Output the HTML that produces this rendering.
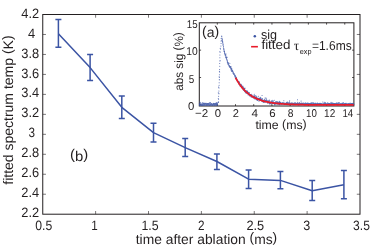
<!DOCTYPE html>
<html><head><meta charset="utf-8"><title>fig</title>
<style>html,body{margin:0;padding:0;background:#fff;overflow:hidden}</style></head>
<body>
<svg width="373" height="248" viewBox="0 0 373 248" style="display:block;will-change:transform;font-family:'Liberation Sans',sans-serif" fill="#231f20">
<rect width="373" height="248" fill="#fff"/>
<rect x="199.3" y="22.8" width="154.60" height="83.20" fill="none" stroke="#231f20" stroke-width="1"/>
<path d="M217.30 106.0v-1.8M217.30 22.8v1.8M235.51 106.0v-1.8M235.51 22.8v1.8M253.72 106.0v-1.8M253.72 22.8v1.8M271.94 106.0v-1.8M271.94 22.8v1.8M290.15 106.0v-1.8M290.15 22.8v1.8M308.36 106.0v-1.8M308.36 22.8v1.8M326.57 106.0v-1.8M326.57 22.8v1.8M344.78 106.0v-1.8M344.78 22.8v1.8M199.3 104.85h1.8M353.9 104.85h-1.8M199.3 77.50h1.8M353.9 77.50h-1.8M199.3 50.15h1.8M353.9 50.15h-1.8" stroke="#231f20" stroke-width="0.8" fill="none"/>
<path d="M218.45 102.50h0M218.39 101.84h0M218.63 99.22h0M218.29 98.47h0M218.63 96.16h0M218.94 93.63h0M218.31 92.77h0M218.91 90.90h0M218.99 87.89h0M218.62 86.99h0M219.10 85.29h0M219.16 82.79h0M219.31 79.85h0M219.33 79.50h0M219.39 77.42h0M219.16 76.83h0M219.41 74.69h0M219.64 71.91h0M219.41 71.25h0M219.61 69.53h0M219.75 66.17h0M219.70 63.55h0M219.94 60.88h0M220.11 60.57h0M219.89 57.66h0M219.91 55.03h0M220.10 52.31h0M219.94 51.57h0M220.47 48.97h0M220.21 48.20h0M220.91 46.07h0M221.06 43.46h0M221.04 41.04h0M221.45 40.72h0M221.15 38.45h0" stroke="#3b54a4" stroke-width="1.05" stroke-linecap="round" fill="none" opacity="0.85"/>
<path d="M199.33 103.84h0M199.36 103.97h0M199.44 105.51h0M199.52 104.62h0M199.39 105.31h0M199.48 104.26h0M199.78 102.01h0M199.96 105.33h0M199.84 103.71h0M200.01 104.74h0M200.14 105.14h0M200.18 104.87h0M200.44 104.55h0M200.31 105.03h0M200.58 104.38h0M200.59 102.68h0M200.96 103.09h0M200.93 103.83h0M200.93 103.57h0M200.93 104.26h0M201.01 103.65h0M201.31 105.46h0M201.43 104.10h0M201.40 104.71h0M201.61 105.55h0M201.74 105.46h0M201.60 105.30h0M202.04 105.41h0M202.08 104.33h0M201.86 104.95h0M202.25 104.77h0M202.26 105.19h0M202.30 105.06h0M202.43 105.59h0M202.76 104.74h0M202.63 104.40h0M202.82 102.64h0M202.64 103.75h0M203.02 103.69h0M203.09 105.12h0M203.21 104.81h0M203.32 103.41h0M203.31 103.79h0M203.57 105.32h0M203.52 103.30h0M203.68 105.36h0M203.79 104.99h0M203.90 103.40h0M204.12 105.26h0M204.10 103.33h0M204.12 103.99h0M204.33 103.81h0M204.41 103.79h0M204.69 103.32h0M204.57 103.73h0M204.58 104.40h0M204.76 105.10h0M205.05 103.38h0M205.08 103.43h0M205.04 105.09h0M204.98 105.14h0M205.09 103.65h0M205.52 104.09h0M205.56 103.49h0M205.66 103.86h0M205.86 104.83h0M205.53 103.35h0M206.03 103.92h0M205.99 103.91h0M206.00 103.68h0M206.10 104.08h0M206.24 105.57h0M206.48 104.09h0M206.41 103.58h0M206.54 105.11h0M206.75 104.24h0M206.68 103.22h0M206.97 104.25h0M206.81 104.62h0M207.06 103.71h0M207.22 103.94h0M207.38 103.92h0M207.16 104.84h0M207.39 105.35h0M207.58 105.02h0M207.52 104.30h0M207.65 103.48h0M207.76 104.41h0M207.67 104.55h0M208.09 103.98h0M207.89 103.42h0M208.15 103.46h0M208.51 104.20h0M208.53 103.78h0M208.52 105.24h0M208.60 103.55h0M208.64 105.09h0M208.93 103.31h0M208.84 105.23h0M209.04 105.15h0M209.13 103.07h0M209.26 104.83h0M209.43 102.89h0M209.14 105.36h0M209.54 105.51h0M209.71 104.62h0M209.91 103.70h0M210.06 104.28h0M209.90 104.33h0M210.07 103.42h0M210.36 102.42h0M210.34 104.55h0M210.34 104.32h0M210.51 104.38h0M210.62 105.35h0M210.67 104.88h0M210.67 103.84h0M210.84 104.41h0M210.87 105.56h0M211.02 104.50h0M211.01 105.35h0M211.30 103.67h0M211.45 104.43h0M211.43 103.67h0M211.52 104.13h0M211.67 104.15h0M211.94 105.01h0M211.95 103.58h0M211.90 104.95h0M212.17 105.23h0M212.29 104.99h0M212.21 105.03h0M212.45 104.88h0M212.44 104.50h0M212.63 105.13h0M212.64 105.39h0M212.75 105.03h0M212.99 104.37h0M213.02 104.08h0M212.95 104.84h0M213.11 105.25h0M213.20 103.66h0M213.36 104.15h0M213.37 104.39h0M213.60 103.66h0M213.49 103.53h0M213.79 103.99h0M213.84 103.47h0M213.80 104.31h0M213.90 103.23h0M213.96 103.87h0M214.19 105.45h0M214.32 104.60h0M214.35 103.88h0M214.35 104.45h0M214.65 103.82h0M214.72 103.88h0M215.02 104.89h0M214.84 105.16h0M214.86 104.03h0M215.06 104.40h0M215.24 103.53h0M215.45 103.33h0M215.44 103.70h0M215.59 104.56h0M215.90 105.11h0M215.78 105.27h0M215.80 103.70h0M215.95 103.54h0M216.27 104.47h0M216.10 104.46h0M216.28 104.80h0M216.35 102.49h0M216.37 103.45h0M216.43 103.51h0M216.70 103.28h0M216.71 104.76h0M216.85 105.36h0M216.92 104.94h0M217.11 104.42h0M217.28 104.73h0M217.07 104.14h0M217.31 103.42h0M217.38 103.90h0M217.50 103.86h0M217.65 102.72h0M217.69 104.80h0M217.48 105.00h0M221.74 36.13h0M221.76 36.38h0M221.71 36.63h0M221.67 36.24h0M222.05 38.17h0M222.14 39.14h0M222.35 39.64h0M222.17 40.20h0M222.37 41.33h0M222.53 40.97h0M222.69 41.50h0M222.63 42.29h0M222.91 43.10h0M222.82 42.65h0M222.99 44.12h0M223.00 44.34h0M223.19 44.86h0M223.08 45.49h0M223.44 46.55h0M223.46 47.94h0M223.41 47.81h0M223.70 48.33h0M223.72 49.15h0M223.88 49.67h0M224.02 49.05h0M223.98 50.23h0M224.17 51.16h0M223.99 51.45h0M224.48 51.53h0M224.49 52.64h0M224.57 51.17h0M224.62 52.81h0M224.64 53.77h0M224.99 54.69h0M224.95 53.83h0M225.07 54.61h0M225.28 55.26h0M225.29 55.03h0M225.29 54.88h0M225.51 54.29h0M225.43 55.56h0M225.61 57.40h0M225.80 56.33h0M226.03 53.97h0M225.84 56.53h0M226.03 57.07h0M226.11 55.91h0M226.24 58.60h0M226.48 57.87h0M226.45 58.48h0M226.68 58.92h0M226.56 57.52h0M226.81 59.57h0M226.99 59.47h0M226.97 60.15h0M227.17 57.27h0M227.37 60.89h0M227.35 61.37h0M227.30 61.75h0M227.48 60.68h0M227.59 63.23h0M227.37 62.33h0M227.70 62.35h0M227.59 62.57h0M228.03 63.07h0M228.09 64.25h0M228.12 64.41h0M228.33 63.40h0M228.36 63.90h0M228.43 62.68h0M228.53 63.34h0M228.71 64.70h0M228.76 65.74h0M228.98 65.01h0M228.78 65.69h0M229.01 65.61h0M229.31 65.85h0M229.18 65.88h0M229.43 66.04h0M229.41 66.67h0M229.55 65.77h0M229.49 66.33h0M229.84 66.31h0M229.84 63.24h0M230.11 66.92h0M229.89 67.49h0M230.14 66.76h0M230.38 66.78h0M230.38 67.47h0M230.48 67.59h0M230.51 67.88h0M230.81 67.61h0M230.85 68.46h0M230.95 66.63h0M230.92 68.68h0M231.01 69.37h0M231.05 69.90h0M231.15 68.26h0M231.62 69.92h0M231.51 71.29h0M231.81 69.22h0M231.70 70.19h0M231.68 70.91h0M231.79 68.25h0M231.92 70.54h0M232.15 71.36h0M232.29 71.22h0M232.33 70.75h0M232.33 71.06h0M232.33 70.17h0M232.63 70.56h0M232.55 71.28h0M232.92 71.56h0M232.97 73.12h0M233.02 72.24h0M233.03 73.10h0M233.33 72.71h0M233.28 72.20h0M233.39 72.02h0M233.35 73.76h0M233.66 73.56h0M233.72 74.24h0M233.75 73.78h0M233.84 74.23h0M233.81 73.86h0M234.05 74.39h0M234.16 74.50h0M234.23 74.59h0M234.43 73.81h0M234.43 74.92h0M234.74 75.86h0M234.32 73.92h0M234.66 75.13h0M234.85 76.86h0M235.12 75.19h0M235.08 75.42h0M235.35 75.45h0M235.17 76.17h0M235.29 76.16h0M235.46 77.12h0M235.42 76.59h0M235.64 78.14h0M235.66 77.54h0M235.68 77.86h0M236.23 77.90h0M235.86 76.78h0M236.29 77.42h0M236.24 78.26h0M236.33 79.30h0M236.42 78.85h0M236.37 77.59h0M236.66 79.58h0M236.63 79.13h0M236.88 79.90h0M236.91 79.76h0M237.07 79.33h0M237.19 80.21h0M237.18 80.49h0M237.33 80.63h0M237.49 80.34h0M237.34 81.61h0M237.53 80.48h0M237.64 81.70h0M237.81 81.74h0M238.06 81.82h0M238.02 81.08h0M238.27 81.24h0M238.27 81.60h0M238.15 81.41h0M238.46 82.06h0M238.76 81.53h0M238.61 81.80h0M238.71 82.57h0M238.73 83.56h0M238.92 82.61h0M239.01 82.71h0M239.09 84.37h0M239.02 83.87h0M239.30 82.82h0M239.46 82.36h0M239.60 81.94h0M239.32 83.91h0M239.93 84.77h0M240.07 84.00h0M239.74 84.70h0M240.05 85.97h0M240.01 84.00h0M240.17 85.33h0M240.28 85.07h0M240.43 84.85h0M240.46 84.42h0M240.61 85.01h0M240.57 86.23h0M240.87 84.50h0M240.70 85.02h0M241.10 84.26h0M241.09 85.54h0M241.23 85.88h0M241.15 85.73h0M241.33 86.76h0M241.62 85.29h0M241.60 85.35h0M241.63 86.01h0M241.57 86.27h0M242.02 86.97h0M242.02 86.89h0M242.02 87.94h0M242.39 87.44h0M242.38 86.60h0M242.41 87.54h0M242.29 87.67h0M242.49 87.70h0M242.68 87.87h0M242.84 86.03h0M243.03 86.88h0M243.04 87.50h0M243.02 89.61h0M243.00 89.04h0M243.32 87.52h0M243.37 88.82h0M243.31 87.04h0M243.45 87.74h0M243.70 88.79h0M243.76 90.34h0M243.79 88.82h0M243.80 90.52h0M244.19 88.93h0M244.20 88.91h0M244.22 89.14h0M244.44 91.31h0M244.42 89.37h0M244.71 90.06h0M244.94 88.00h0M244.53 88.93h0M244.88 88.71h0M244.95 91.27h0M245.06 90.79h0M245.23 90.45h0M245.20 91.92h0M245.29 91.47h0M245.59 91.39h0M245.58 91.46h0M245.64 91.94h0M245.71 92.85h0M245.80 92.80h0M245.95 92.06h0M246.12 91.72h0M246.18 92.82h0M246.19 90.76h0M246.45 92.31h0M246.50 92.04h0M246.61 92.71h0M246.79 92.03h0M246.72 90.86h0M246.70 92.21h0M246.83 92.59h0M246.83 93.54h0M247.13 91.35h0M247.53 93.27h0M247.47 90.94h0M247.60 92.45h0M247.54 92.69h0M247.71 93.58h0M247.69 91.59h0M247.81 93.11h0M248.01 92.74h0M247.92 94.66h0M248.28 93.05h0M248.37 93.51h0M248.33 94.80h0M248.53 92.49h0M248.56 94.24h0M248.60 92.85h0M248.67 93.25h0M248.97 93.78h0M249.04 94.94h0M249.28 95.19h0M249.25 92.57h0M249.20 94.00h0M249.54 94.06h0M249.52 94.61h0M249.59 94.05h0M249.84 95.14h0M249.89 95.29h0M249.74 95.25h0M250.01 96.13h0M249.87 95.14h0M250.28 95.01h0M250.27 95.52h0M250.49 94.43h0M250.32 94.62h0M250.57 94.97h0M250.51 95.16h0M250.82 94.94h0M250.91 95.90h0M250.94 95.37h0M250.95 95.50h0M251.30 97.16h0M251.28 95.59h0M251.28 95.67h0M251.37 96.14h0M251.57 94.97h0M251.52 96.30h0M251.70 95.30h0M251.76 94.36h0M252.13 95.93h0M252.01 96.17h0M252.01 95.41h0M252.44 96.71h0M252.32 95.83h0M252.53 96.29h0M252.42 96.26h0M252.79 97.10h0M252.62 97.01h0M252.82 97.37h0M252.76 97.03h0M253.07 96.20h0M253.30 96.42h0M253.34 97.30h0M253.35 98.04h0M253.40 96.09h0M253.59 96.05h0M253.71 97.01h0M253.51 96.85h0M253.97 97.85h0M254.26 96.99h0M254.00 98.00h0M254.16 96.97h0M254.25 94.25h0M254.56 95.72h0M254.43 96.39h0M254.56 97.98h0M254.59 97.18h0M254.89 99.06h0M254.57 96.94h0M255.13 97.11h0M255.06 95.53h0M255.10 97.54h0M255.17 97.79h0M255.34 98.06h0M255.38 98.61h0M255.71 96.96h0M255.51 98.63h0M255.88 99.06h0M255.69 97.78h0M256.06 95.98h0M255.94 97.76h0M256.11 96.60h0M256.36 98.51h0M256.46 99.14h0M256.30 97.09h0M256.54 97.68h0M256.52 99.68h0M256.79 96.91h0M256.72 97.74h0M256.76 97.61h0M256.98 97.89h0M257.06 99.99h0M256.95 98.63h0M257.22 99.65h0M257.52 98.55h0M257.40 98.52h0M257.44 98.31h0M257.61 100.39h0M257.81 99.82h0M258.00 98.72h0M257.92 99.20h0M258.21 99.82h0M258.34 96.32h0M258.43 98.16h0M258.56 98.50h0M258.77 99.29h0M258.54 99.30h0M258.47 99.50h0M258.95 98.38h0M259.00 101.25h0M259.06 99.22h0M259.22 99.25h0M259.26 100.09h0M259.27 99.62h0M259.42 99.25h0M259.69 98.47h0M259.55 99.90h0M259.81 99.45h0M259.93 99.62h0M259.77 98.21h0M260.08 98.32h0M260.24 97.37h0M260.17 98.69h0M260.32 100.44h0M260.42 100.24h0M260.56 99.46h0M260.61 99.39h0M260.73 100.07h0M260.87 99.77h0M260.97 98.12h0M261.24 100.34h0M261.02 98.99h0M261.28 100.77h0M261.37 100.99h0M261.27 99.25h0M261.70 99.18h0M261.65 100.65h0M261.62 99.87h0M261.82 101.03h0M262.05 95.58h0M261.91 101.12h0M262.14 100.30h0M262.48 99.67h0M262.25 100.48h0M262.31 98.57h0M262.51 100.37h0M262.68 100.02h0M262.46 101.45h0M262.75 99.88h0M262.93 100.83h0M263.05 101.95h0M263.01 100.52h0M263.06 100.70h0M263.24 101.59h0M263.28 100.86h0M263.46 100.85h0M263.80 101.64h0M263.70 101.00h0M263.84 102.54h0M264.11 100.29h0M264.10 100.52h0M264.11 99.96h0M264.20 101.40h0M264.08 100.34h0M264.29 101.23h0M264.59 99.50h0M264.60 102.08h0M264.69 101.28h0M264.87 101.05h0M265.05 98.12h0M265.16 100.46h0M264.91 101.09h0M265.33 101.42h0M265.39 100.84h0M265.40 101.96h0M265.53 101.68h0M265.54 101.03h0M265.62 101.37h0M265.75 100.62h0M265.77 100.86h0M265.92 100.09h0M266.20 101.40h0M266.17 99.99h0M265.99 97.91h0M266.39 101.74h0M266.39 100.67h0M266.65 99.00h0M266.70 101.13h0M266.51 101.28h0M266.66 101.00h0M267.03 100.49h0M267.00 101.96h0M267.11 100.67h0M267.27 102.59h0M267.49 101.90h0M267.60 100.95h0M267.58 102.43h0M267.67 102.26h0M267.86 101.35h0M267.97 101.98h0M267.92 103.38h0M268.01 102.96h0M268.05 102.12h0M268.19 102.62h0M268.47 101.91h0M268.34 101.30h0M268.45 100.66h0M268.78 102.33h0M268.80 102.07h0M268.84 101.77h0M268.80 101.94h0M269.13 101.57h0M269.24 100.02h0M269.20 101.49h0M269.44 103.15h0M269.47 103.05h0M269.62 103.56h0M269.85 103.45h0M269.62 100.78h0M269.88 104.34h0M270.08 103.49h0M270.00 102.88h0M270.22 103.55h0M270.37 103.10h0M270.56 102.94h0M270.47 103.22h0M270.64 102.49h0M270.65 102.66h0M270.98 103.08h0M270.85 101.84h0M270.84 102.17h0M271.09 102.80h0M271.03 103.45h0M271.18 102.56h0M271.20 101.97h0M271.41 100.86h0M271.44 102.56h0M271.89 101.89h0M271.61 103.99h0M271.78 102.12h0M272.02 101.71h0M272.13 101.94h0M272.31 103.47h0M272.52 103.38h0M272.42 102.73h0M272.39 102.06h0M272.45 102.66h0M272.83 103.48h0M272.87 100.24h0M272.78 100.74h0M272.92 101.19h0M272.97 103.18h0M272.76 102.92h0M273.21 103.28h0M273.36 102.51h0M273.53 103.13h0M273.39 101.87h0M273.86 103.74h0M273.73 102.66h0M273.85 103.54h0M273.86 102.42h0M274.03 103.18h0M273.89 102.63h0M274.19 103.86h0M274.26 100.31h0M274.69 103.54h0M274.71 103.22h0M274.66 104.88h0M274.88 103.88h0M275.08 103.49h0M274.87 102.72h0M275.11 103.23h0M275.30 103.18h0M275.23 103.71h0M275.38 102.54h0M275.52 103.30h0M275.49 101.88h0M275.63 103.60h0M275.78 103.31h0M275.96 103.34h0M275.83 104.26h0M276.13 101.93h0M276.06 103.14h0M276.37 103.02h0M276.48 102.06h0M276.45 103.67h0M276.59 101.89h0M276.55 103.34h0M276.61 103.22h0M276.80 102.25h0M277.05 102.30h0M277.01 101.62h0M277.05 103.41h0M277.34 102.34h0M277.48 102.80h0M277.23 102.16h0M277.72 102.07h0M277.64 104.22h0M277.68 102.92h0M277.74 103.79h0M278.00 104.22h0M278.06 103.78h0M278.12 102.78h0M278.26 103.51h0M278.43 102.94h0M278.46 102.48h0M278.74 102.50h0M278.55 103.32h0M278.84 102.10h0M279.06 104.44h0M279.02 102.77h0M279.06 103.03h0M279.13 103.77h0M279.08 103.58h0M279.32 102.38h0M279.19 102.89h0M279.52 102.37h0M279.59 104.81h0M279.60 103.18h0M279.97 102.84h0M279.72 101.39h0M280.18 103.35h0M280.01 103.96h0M280.27 102.57h0M280.43 103.08h0M280.26 103.63h0M280.67 103.26h0M280.58 102.61h0M280.68 102.98h0M281.02 104.09h0M280.85 103.30h0M280.95 104.09h0M281.07 103.15h0M281.29 103.71h0M281.40 103.46h0M281.44 103.75h0M281.55 104.14h0M281.63 103.31h0M281.67 103.38h0M281.80 102.75h0M281.93 103.92h0M282.02 103.46h0M281.99 103.83h0M282.14 103.62h0M282.34 103.34h0M282.33 103.20h0M282.34 104.04h0M282.80 103.00h0M282.61 103.46h0M282.72 103.24h0M282.88 103.90h0M283.05 103.44h0M282.96 104.09h0M283.05 102.47h0M283.31 103.76h0M283.39 103.65h0M283.63 103.20h0M283.63 103.36h0M283.84 100.72h0M283.73 104.31h0M283.79 103.31h0M283.85 103.55h0M284.17 103.23h0M284.07 103.68h0M284.33 103.29h0M284.10 103.32h0M284.72 103.20h0M284.45 104.53h0M284.64 104.15h0M284.54 104.14h0M284.85 104.07h0M285.03 103.88h0M285.05 103.63h0M285.14 104.04h0M285.18 103.96h0M285.36 103.25h0M285.62 103.42h0M285.66 103.97h0M285.61 103.86h0M285.72 103.65h0M286.01 103.70h0M286.11 103.20h0M285.88 103.34h0M286.16 103.23h0M286.49 104.41h0M286.46 103.65h0M286.65 104.04h0M286.74 103.77h0M286.71 102.96h0M286.75 102.19h0M287.08 103.86h0M286.89 103.09h0M286.99 104.65h0M287.37 103.23h0M287.12 103.57h0M287.48 103.29h0M287.45 102.04h0M287.61 103.78h0M287.65 103.88h0M287.58 103.99h0M287.91 103.35h0M288.02 103.59h0M288.05 103.97h0M288.34 102.93h0M288.21 102.87h0M288.50 104.51h0M288.25 103.64h0M288.67 103.69h0M288.64 103.61h0M288.92 104.14h0M289.00 102.89h0M288.95 104.18h0M289.06 103.39h0M289.10 103.78h0M289.20 103.28h0M289.34 102.09h0M289.50 103.16h0M289.61 103.45h0M289.78 103.77h0M289.94 103.77h0M289.69 100.85h0M290.01 104.04h0M290.02 104.42h0M290.38 103.42h0M290.22 104.58h0M290.21 102.94h0M290.37 103.78h0M290.53 103.90h0M290.57 103.37h0M290.79 103.69h0M291.12 103.29h0M290.83 103.71h0M291.10 103.54h0M291.11 103.60h0M291.38 103.02h0M291.34 103.94h0M291.17 103.87h0M291.60 104.48h0M291.80 104.29h0M291.76 103.54h0M291.96 102.73h0M291.89 103.88h0M292.23 103.58h0M292.11 103.98h0M292.24 103.13h0M292.15 103.42h0M292.53 103.58h0M292.45 103.29h0M292.78 103.69h0M292.67 104.10h0M292.91 103.89h0M293.02 103.14h0M293.08 104.48h0M293.17 103.89h0M293.13 105.17h0M293.24 104.42h0M293.51 103.58h0M293.52 103.80h0M293.74 104.37h0M293.71 104.51h0M294.04 104.22h0M293.77 104.03h0M294.26 104.14h0M294.19 104.22h0M294.09 103.27h0M294.13 103.73h0M294.47 102.70h0M294.60 103.67h0M294.66 104.48h0M294.72 103.41h0M295.04 103.49h0M294.99 103.79h0M295.40 103.79h0M295.08 104.15h0M295.29 104.28h0M295.48 103.23h0M295.36 104.17h0M295.62 103.27h0M295.52 102.82h0M295.85 103.80h0M295.89 104.20h0M295.79 103.83h0M296.05 103.52h0M296.36 103.33h0M296.46 103.96h0M296.46 103.97h0M296.41 103.65h0M296.48 104.33h0M296.60 103.63h0M296.91 104.44h0M297.07 103.48h0M296.98 103.92h0M297.05 103.82h0M297.31 103.42h0M297.41 103.53h0M297.58 104.49h0M297.47 99.75h0M297.69 103.02h0M297.60 103.76h0M297.74 102.36h0M297.81 103.72h0M298.04 103.56h0M297.99 104.02h0M298.15 104.15h0M298.25 105.02h0M298.65 103.63h0M298.35 103.96h0M298.42 103.31h0M298.63 103.94h0M298.66 103.86h0M298.72 104.43h0M298.92 105.23h0M298.76 104.41h0M299.05 103.27h0M299.26 103.59h0M299.42 103.93h0M299.38 104.10h0M299.71 103.67h0M299.67 103.29h0M299.66 104.02h0M299.71 103.29h0M299.70 102.64h0M300.03 104.60h0M300.31 103.87h0M300.37 104.51h0M300.31 104.62h0M300.59 104.25h0M300.70 103.83h0M300.56 103.47h0M300.72 104.51h0M301.05 103.23h0M300.91 104.55h0M301.11 103.93h0M301.18 104.64h0M301.07 101.11h0M301.38 103.32h0M301.52 103.75h0M301.40 103.68h0M301.31 104.03h0M301.60 102.93h0M301.83 103.78h0M301.83 104.24h0M301.95 103.52h0M302.21 103.63h0M302.30 103.93h0M302.31 103.86h0M302.45 103.53h0M302.58 104.16h0M302.67 104.23h0M302.85 104.64h0M302.80 103.83h0M302.80 104.38h0M302.91 104.70h0M303.24 103.54h0M303.10 102.74h0M303.51 103.45h0M303.29 103.62h0M303.52 104.07h0M303.49 104.09h0M303.61 103.85h0M303.69 103.70h0M304.00 103.77h0M303.99 104.64h0M303.93 103.90h0M304.28 104.27h0M304.34 103.75h0M304.42 104.20h0M304.44 104.63h0M304.79 104.70h0M304.35 103.73h0M304.86 104.88h0M304.90 104.19h0M305.00 104.00h0M305.11 103.61h0M305.09 103.01h0M305.23 104.03h0M305.47 103.06h0M305.66 104.30h0M305.48 103.80h0M305.57 103.87h0M305.95 103.33h0M305.85 104.31h0M305.91 103.44h0M306.14 104.18h0M306.26 104.40h0M306.43 104.64h0M306.53 104.22h0M306.74 103.82h0M306.55 103.71h0M306.51 104.19h0M306.73 104.34h0M306.96 104.67h0M307.08 103.09h0M307.28 104.18h0M307.06 103.52h0M307.46 103.64h0M307.58 104.44h0M307.42 103.04h0M307.76 103.94h0M307.68 104.28h0M308.01 104.45h0M307.58 103.59h0M308.03 103.54h0M308.25 103.92h0M308.25 104.80h0M308.25 104.13h0M308.59 103.21h0M308.45 103.46h0M308.76 104.50h0M308.68 103.83h0M308.68 103.58h0M308.93 103.79h0M308.85 103.28h0M309.08 103.91h0M309.18 103.58h0M309.27 104.12h0M309.43 104.39h0M309.69 103.65h0M309.66 103.45h0M309.63 104.86h0M309.80 104.16h0M309.99 103.45h0M309.94 104.44h0M310.03 104.19h0M310.15 103.62h0M310.19 103.64h0M310.53 103.19h0M310.50 104.65h0M310.61 104.33h0M310.69 104.51h0M310.84 104.31h0M311.13 103.97h0M310.98 103.97h0M311.10 104.92h0M311.11 104.17h0M311.17 102.75h0M311.43 103.67h0M311.50 104.17h0M311.58 103.38h0M311.41 104.22h0M311.66 103.00h0M311.78 103.86h0M312.10 104.25h0M312.16 104.23h0M312.15 103.85h0M312.33 104.30h0M312.22 103.79h0M312.52 102.86h0M312.63 104.60h0M312.63 105.12h0M312.90 104.30h0M312.86 104.77h0M313.16 104.50h0M313.23 104.21h0M313.34 103.35h0M313.33 104.51h0M313.47 104.68h0M313.39 104.83h0M313.63 102.85h0M313.70 104.14h0M313.79 104.42h0M313.89 103.73h0M313.90 103.48h0M314.12 104.77h0M314.38 104.92h0M314.42 104.39h0M314.29 103.68h0M314.48 103.49h0M314.63 104.10h0M314.53 104.03h0M314.73 103.73h0M314.97 103.76h0M315.05 104.63h0M314.91 103.85h0M315.30 103.80h0M315.20 103.08h0M315.67 104.23h0M315.72 103.89h0M315.49 103.67h0M315.63 103.49h0M315.98 103.72h0M315.87 104.08h0M315.92 103.55h0M316.18 104.07h0M316.09 105.00h0M316.46 104.88h0M316.32 104.16h0M316.57 105.24h0M316.42 104.44h0M316.64 104.81h0M316.76 104.54h0M316.94 103.18h0M316.92 104.57h0M316.94 103.45h0M317.19 103.64h0M317.19 103.07h0M317.21 103.49h0M317.42 103.55h0M317.44 103.24h0M317.53 104.21h0M317.53 104.79h0M317.82 103.20h0M317.76 104.44h0M318.02 104.49h0M318.21 103.85h0M318.31 104.28h0M318.32 103.70h0M318.53 103.61h0M318.63 104.15h0M318.60 104.19h0M318.66 103.98h0M318.85 103.77h0M318.74 103.74h0M319.07 103.78h0M319.16 104.50h0M319.16 104.63h0M319.18 104.80h0M319.41 103.23h0M319.56 103.40h0M319.55 104.22h0M319.74 104.27h0M319.66 103.71h0M319.76 104.33h0M319.99 103.61h0M320.03 103.41h0M320.02 104.65h0M320.28 103.35h0M320.40 103.66h0M320.40 103.82h0M320.70 104.20h0M320.86 104.23h0M320.95 103.87h0M320.82 104.67h0M321.16 103.71h0M321.25 104.81h0M320.99 103.48h0M321.33 104.08h0M321.49 105.00h0M321.49 104.26h0M321.79 104.74h0M321.73 103.80h0M321.99 103.74h0M321.98 103.67h0M322.25 104.53h0M322.31 103.67h0M322.23 104.07h0M322.13 103.91h0M322.39 104.01h0M322.70 103.97h0M322.77 104.40h0M322.66 103.99h0M322.84 101.95h0M322.90 104.20h0M323.01 104.00h0M322.98 104.74h0M323.50 104.14h0M323.44 105.30h0M323.56 104.19h0M323.36 103.84h0M323.53 103.87h0M323.65 103.96h0M323.82 103.85h0M323.99 104.68h0M324.02 103.35h0M324.33 103.45h0M324.40 104.23h0M324.40 104.47h0M324.28 102.22h0M324.46 104.35h0M324.77 103.73h0M324.76 104.14h0M325.03 104.74h0M324.94 104.31h0M325.20 103.60h0M325.11 103.00h0M325.26 105.00h0M325.42 103.59h0M325.58 102.77h0M325.65 104.51h0M325.46 104.16h0M325.74 103.49h0M325.72 104.03h0M325.74 102.93h0M326.03 104.24h0M326.11 104.28h0M326.04 104.82h0M326.26 104.31h0M326.35 103.69h0M326.49 104.31h0M326.66 104.73h0M326.59 104.24h0M326.78 104.12h0M327.02 104.69h0M327.19 104.05h0M327.13 104.36h0M327.19 104.24h0M327.31 103.74h0M327.20 103.87h0M327.48 104.10h0M327.70 102.76h0M327.75 103.98h0M327.64 103.37h0M327.93 104.95h0M328.27 104.02h0M328.20 103.28h0M328.16 103.26h0M328.52 104.11h0M328.29 103.55h0M328.38 103.84h0M328.49 104.83h0M328.76 103.51h0M328.82 104.14h0M328.94 103.17h0M329.02 104.34h0M329.23 103.96h0M329.19 103.48h0M329.42 103.43h0M329.36 103.96h0M329.70 104.37h0M329.40 105.18h0M329.71 103.90h0M329.65 104.33h0M329.94 104.59h0M329.79 104.76h0M329.85 103.78h0M330.17 104.12h0M330.20 103.79h0M330.66 103.59h0M330.41 104.20h0M330.69 104.35h0M330.82 105.41h0M330.72 103.33h0M330.89 103.27h0M331.03 102.39h0M331.00 103.07h0M331.36 103.35h0M331.48 104.66h0M331.32 103.53h0M331.57 104.44h0M331.51 104.16h0M331.47 104.60h0M331.85 103.50h0M331.83 104.14h0M332.18 102.88h0M332.09 103.79h0M332.02 104.39h0M332.20 104.09h0M332.42 103.35h0M332.80 104.18h0M332.50 104.71h0M332.60 104.24h0M332.80 104.02h0M332.94 103.95h0M332.96 103.36h0M333.02 104.06h0M333.31 104.27h0M333.35 104.86h0M333.34 103.69h0M333.53 103.18h0M333.42 103.55h0M333.70 104.11h0M333.75 103.86h0M333.79 104.73h0M334.03 103.96h0M334.20 104.64h0M334.22 103.47h0M334.16 104.31h0M334.41 103.50h0M334.43 104.47h0M334.61 104.14h0M334.69 104.49h0M334.80 104.45h0M334.80 103.62h0M335.15 104.54h0M335.08 103.87h0M335.28 103.98h0M335.33 103.74h0M335.42 103.96h0M335.51 103.78h0M335.30 103.98h0M335.75 103.88h0M335.55 103.95h0M335.91 104.49h0M335.89 104.29h0M336.13 104.16h0M336.15 104.36h0M336.27 102.98h0M336.34 104.30h0M336.44 103.80h0M336.50 103.91h0M336.56 102.93h0M336.79 103.55h0M336.85 104.46h0M336.87 104.67h0M336.80 103.71h0M337.08 103.81h0M337.35 103.96h0M337.34 103.94h0M337.50 103.58h0M337.76 103.81h0M337.62 103.64h0M337.79 102.90h0M337.89 104.69h0M337.99 105.43h0M338.29 103.91h0M338.17 103.56h0M338.24 103.68h0M338.32 102.46h0M338.63 103.89h0M338.42 104.10h0M338.72 103.92h0M338.83 103.82h0M338.71 104.17h0M339.05 104.20h0M338.95 103.98h0M339.30 104.38h0M339.35 104.58h0M339.33 104.21h0M339.48 104.02h0M339.48 104.05h0M339.53 102.85h0M339.82 103.81h0M339.93 104.78h0M339.77 103.86h0M340.13 104.57h0M340.28 104.18h0M340.22 104.49h0M340.26 104.46h0M340.63 103.65h0M340.38 103.74h0M340.79 103.97h0M340.71 104.07h0M341.06 104.80h0M340.68 104.33h0M340.80 103.58h0M341.17 103.42h0M341.15 103.30h0M341.37 104.83h0M341.52 103.77h0M341.51 104.05h0M341.80 104.01h0M341.71 104.34h0M341.83 104.62h0M342.01 104.10h0M342.07 103.70h0M342.02 105.05h0M342.32 104.69h0M342.34 103.31h0M342.59 103.18h0M342.55 104.93h0M342.63 104.02h0M342.82 104.50h0M342.93 104.10h0M342.86 104.10h0M343.23 102.62h0M343.13 103.83h0M343.23 104.54h0M343.36 104.49h0M343.48 103.85h0M343.41 104.65h0M343.45 103.90h0M343.75 104.43h0M343.83 104.26h0M343.83 104.28h0M344.25 103.99h0M344.23 103.56h0M344.03 104.34h0M344.39 104.08h0M344.41 104.36h0M344.51 104.31h0M344.73 104.09h0M344.72 104.34h0M344.72 104.45h0M345.00 104.69h0M344.99 104.30h0M345.17 104.44h0M345.17 103.26h0M345.30 105.33h0M345.59 103.71h0M345.67 103.87h0M345.86 103.93h0M345.75 104.53h0M345.72 103.87h0M345.73 104.17h0M346.14 104.26h0M346.13 103.90h0M346.17 103.37h0M346.34 103.59h0M346.68 104.58h0M346.63 104.62h0M346.62 103.77h0M346.78 103.97h0M346.75 104.25h0M346.93 104.39h0M347.13 104.96h0M347.16 103.85h0M347.23 104.14h0M347.39 104.37h0M347.46 103.98h0M347.54 104.37h0M347.69 104.63h0M347.79 103.85h0M348.03 103.85h0M348.08 104.79h0M347.84 104.29h0M348.18 103.94h0M348.39 103.87h0M348.32 103.54h0M348.49 103.73h0M348.49 104.13h0M348.58 103.83h0M348.82 103.84h0M349.02 105.00h0M349.16 104.05h0M349.15 104.83h0M349.04 104.86h0M349.18 103.75h0M349.42 103.94h0M349.57 104.38h0M349.71 104.65h0M349.59 104.54h0M349.71 104.93h0M349.85 103.38h0M349.80 104.33h0M350.14 103.32h0M350.29 104.91h0M350.14 103.21h0M350.20 103.33h0M350.44 104.54h0M350.27 103.91h0M350.69 104.31h0M350.73 104.16h0M350.86 104.08h0M350.83 104.13h0M351.13 104.84h0M351.27 104.37h0M351.26 105.16h0M351.53 104.49h0M351.51 103.59h0M351.49 104.68h0M351.48 103.57h0M351.79 104.42h0M351.75 104.19h0M351.94 103.46h0M351.88 104.22h0M352.07 105.02h0M352.27 104.33h0M352.22 104.00h0M352.40 103.58h0M352.23 104.39h0M352.70 104.25h0M352.84 103.87h0M352.74 104.24h0M352.90 103.47h0M353.24 103.67h0M352.86 104.05h0M352.94 103.29h0M353.44 104.13h0M353.34 104.28h0M353.54 104.21h0M353.59 104.60h0M353.56 103.71h0M353.91 104.16h0M353.89 104.09h0" stroke="#3b54a4" stroke-width="1.05" stroke-linecap="round" fill="none" opacity="0.85"/>
<path d="M235.58 77.72 L236.48 79.38 L237.39 80.93 L238.29 82.39 L239.20 83.76 L240.10 85.04 L241.01 86.25 L241.91 87.39 L242.82 88.45 L243.72 89.46 L244.63 90.40 L245.53 91.28 L246.44 92.11 L247.34 92.89 L248.25 93.63 L249.15 94.31 L250.06 94.96 L250.96 95.57 L251.87 96.14 L252.77 96.68 L253.68 97.18 L254.58 97.65 L255.49 98.10 L256.39 98.52 L257.30 98.91 L258.20 99.28 L259.11 99.62 L260.01 99.95 L260.92 100.25 L261.82 100.54 L262.73 100.81 L263.63 101.06 L264.54 101.30 L265.44 101.53 L266.35 101.74 L267.25 101.93 L268.16 102.12 L269.06 102.29 L269.97 102.46 L270.87 102.61 L271.78 102.75 L272.68 102.89 L273.59 103.02 L274.49 103.14 L275.40 103.25 L276.30 103.36 L277.21 103.45 L278.11 103.55 L279.02 103.64 L279.92 103.72 L280.83 103.79 L281.73 103.87 L282.64 103.94 L283.54 104.00 L284.45 104.06 L285.35 104.12 L286.26 104.17 L287.16 104.22 L288.07 104.27 L288.97 104.31 L289.88 104.35 L290.78 104.39 L291.69 104.43 L292.59 104.46 L293.50 104.49 L294.40 104.52 L295.31 104.55 L296.21 104.58 L297.12 104.60 L298.02 104.63 L298.93 104.65 L299.83 104.67 L300.74 104.69 L301.64 104.71 L302.55 104.73 L303.45 104.74 L304.36 104.76 L305.26 104.77 L306.17 104.78 L307.07 104.80 L307.98 104.81 L308.88 104.82 L309.79 104.83 L310.69 104.84 L311.60 104.85 L312.50 104.86 L313.41 104.87 L314.31 104.87 L315.22 104.88 L316.12 104.89 L317.03 104.89 L317.93 104.90 L318.84 104.91 L319.74 104.91 L320.65 104.92 L321.55 104.92 L322.46 104.93 L323.36 104.93 L324.27 104.93 L325.17 104.94 L326.08 104.94 L326.98 104.94 L327.89 104.95 L328.79 104.95 L329.70 104.95 L330.60 104.95 L331.51 104.96 L332.41 104.96 L333.32 104.96 L334.22 104.96 L335.13 104.96 L336.03 104.97 L336.94 104.97 L337.84 104.97 L338.75 104.97 L339.65 104.97 L340.56 104.97 L341.46 104.97 L342.37 104.98 L343.27 104.98 L344.18 104.98 L345.08 104.98 L345.99 104.98 L346.89 104.98 L347.80 104.98 L348.70 104.98 L349.61 104.98 L350.51 104.98 L351.42 104.98 L352.32 104.98 L353.70 104.98" stroke="#e81c2a" stroke-width="1.75" fill="none" stroke-linejoin="round"/>
<rect x="42.75" y="14.5" width="317.25" height="199.70" fill="none" stroke="#231f20" stroke-width="1"/>
<path d="M95.62 214.2v-3.2M95.62 14.5v3.2M148.50 214.2v-3.2M148.50 14.5v3.2M201.38 214.2v-3.2M201.38 14.5v3.2M254.25 214.2v-3.2M254.25 14.5v3.2M307.12 214.2v-3.2M307.12 14.5v3.2M42.75 194.23h3.2M360.0 194.23h-3.2M42.75 174.26h3.2M360.0 174.26h-3.2M42.75 154.29h3.2M360.0 154.29h-3.2M42.75 134.32h3.2M360.0 134.32h-3.2M42.75 114.35h3.2M360.0 114.35h-3.2M42.75 94.38h3.2M360.0 94.38h-3.2M42.75 74.41h3.2M360.0 74.41h-3.2M42.75 54.44h3.2M360.0 54.44h-3.2M42.75 34.47h3.2M360.0 34.47h-3.2" stroke="#231f20" stroke-width="0.6" fill="none"/>
<path d="M58.4 33.8 L90.1 67.6 L121.8 107.3 L153.5 132.6 L185.2 147.6 L216.9 161.5 L248.6 179.2 L280.4 180.4 L312.2 190.7 L343.9 184.7" stroke="#3b54a4" stroke-width="1.5" fill="none" stroke-linejoin="round"/>
<path d="M58.4 19.5V47.3M55.4 19.5h6M55.4 47.3h6M90.1 54.4V80.5M87.1 54.4h6M87.1 80.5h6M121.8 96.0V118.4M118.8 96.0h6M118.8 118.4h6M153.5 123.2V141.9M150.5 123.2h6M150.5 141.9h6M185.2 138.4V156.5M182.2 138.4h6M182.2 156.5h6M216.9 154.0V169.4M213.9 154.0h6M213.9 169.4h6M248.6 170.0V188.4M245.6 170.0h6M245.6 188.4h6M280.4 171.6V188.7M277.4 171.6h6M277.4 188.7h6M312.2 180.6V200.4M309.2 180.6h6M309.2 200.4h6M343.9 170.4V198.7M340.9 170.4h6M340.9 198.7h6" stroke="#3b54a4" stroke-width="1.5" fill="none"/>
<defs><mask id="m"><rect width="373" height="248" fill="#fff"/></mask></defs><g mask="url(#m)" text-rendering="geometricPrecision">
<text x="21.34" y="17.60" font-size="13.6" textLength="17.88" lengthAdjust="spacingAndGlyphs">4.2</text>
<text x="21.34" y="57.54" font-size="13.6" textLength="17.88" lengthAdjust="spacingAndGlyphs">3.8</text>
<text x="21.34" y="77.51" font-size="13.6" textLength="17.88" lengthAdjust="spacingAndGlyphs">3.6</text>
<text x="21.34" y="97.48" font-size="13.6" textLength="17.88" lengthAdjust="spacingAndGlyphs">3.4</text>
<text x="21.34" y="117.45" font-size="13.6" textLength="17.88" lengthAdjust="spacingAndGlyphs">3.2</text>
<text x="21.34" y="157.39" font-size="13.6" textLength="17.88" lengthAdjust="spacingAndGlyphs">2.8</text>
<text x="21.34" y="177.36" font-size="13.6" textLength="17.88" lengthAdjust="spacingAndGlyphs">2.6</text>
<text x="21.34" y="197.33" font-size="13.6" textLength="17.88" lengthAdjust="spacingAndGlyphs">2.4</text>
<text x="21.34" y="217.30" font-size="13.6" textLength="17.88" lengthAdjust="spacingAndGlyphs">2.2</text>
<text x="28.09" y="37.57" font-size="13.6" textLength="7.19" lengthAdjust="spacingAndGlyphs">4</text>
<text x="28.46" y="137.42" font-size="13.6" textLength="6.5" lengthAdjust="spacingAndGlyphs">3</text>
<text x="35.21" y="229.50" font-size="13.6" textLength="16.98" lengthAdjust="spacingAndGlyphs">0.5</text>
<text x="91.26" y="229.50" font-size="13.6" textLength="6.5" lengthAdjust="spacingAndGlyphs">1</text>
<text x="141.43" y="229.50" font-size="13.6" textLength="17.22" lengthAdjust="spacingAndGlyphs">1.5</text>
<text x="198.05" y="229.50" font-size="13.6" textLength="6.52" lengthAdjust="spacingAndGlyphs">2</text>
<text x="246.43" y="229.50" font-size="13.6" textLength="17.81" lengthAdjust="spacingAndGlyphs">2.5</text>
<text x="303.25" y="229.50" font-size="13.6" textLength="6.98" lengthAdjust="spacingAndGlyphs">3</text>
<text x="353.07" y="229.50" font-size="13.6" textLength="16.79" lengthAdjust="spacingAndGlyphs">3.5</text>
<text x="135.72" y="243.50" font-size="13.8" textLength="141.54" lengthAdjust="spacingAndGlyphs">time after ablation <tspan dy="-1.2">(</tspan><tspan dy="1.2">ms</tspan><tspan dy="-1.2">)</tspan></text>
<text transform="translate(12.60 184.76) rotate(-90)" font-size="13.8" textLength="149.36" lengthAdjust="spacingAndGlyphs">fitted spectrum temp <tspan dy="-1.0">(</tspan><tspan dy="1.0">K</tspan><tspan dy="-1.0">)</tspan></text>
<text x="69.97" y="160.50" font-size="14" textLength="18.25" lengthAdjust="spacingAndGlyphs"><tspan dy="-1.2">(</tspan><tspan dy="1.2">b</tspan><tspan dy="-1.2">)</tspan></text>
<text x="201.97" y="37.10" font-size="14" textLength="17.14" lengthAdjust="spacingAndGlyphs"><tspan dy="-1.2">(</tspan><tspan dy="1.2">a</tspan><tspan dy="-1.2">)</tspan></text>
<text x="186.74" y="27.50" font-size="11.3" textLength="10.82" lengthAdjust="spacingAndGlyphs">15</text>
<text x="186.31" y="54.80" font-size="11.3" textLength="11.45" lengthAdjust="spacingAndGlyphs">10</text>
<text x="188.65" y="82.70" font-size="11.3" textLength="5.5" lengthAdjust="spacingAndGlyphs">5</text>
<text x="187.92" y="110.00" font-size="11.3" textLength="6.33" lengthAdjust="spacingAndGlyphs">0</text>
<text x="195.03" y="117.20" font-size="11.3" textLength="13.22" lengthAdjust="spacingAndGlyphs">−2</text>
<text x="214.87" y="117.20" font-size="11.3" textLength="6.3" lengthAdjust="spacingAndGlyphs">0</text>
<text x="232.84" y="117.20" font-size="11.3" textLength="6.18" lengthAdjust="spacingAndGlyphs">2</text>
<text x="251.60" y="117.20" font-size="11.3" textLength="6.57" lengthAdjust="spacingAndGlyphs">4</text>
<text x="269.16" y="117.20" font-size="11.3" textLength="6.41" lengthAdjust="spacingAndGlyphs">6</text>
<text x="287.83" y="117.20" font-size="11.3" textLength="5.72" lengthAdjust="spacingAndGlyphs">8</text>
<text x="306.09" y="117.20" font-size="11.3" textLength="10.82" lengthAdjust="spacingAndGlyphs">10</text>
<text x="324.10" y="117.20" font-size="11.3" textLength="11.18" lengthAdjust="spacingAndGlyphs">12</text>
<text x="342.48" y="117.20" font-size="11.3" textLength="10.82" lengthAdjust="spacingAndGlyphs">14</text>
<text x="255.43" y="128.60" font-size="12.1" textLength="51.3" lengthAdjust="spacingAndGlyphs">time <tspan dy="-1.1">(</tspan><tspan dy="1.1">ms</tspan><tspan dy="-1.1">)</tspan></text>
<text transform="translate(182.80 90.72) rotate(-90)" font-size="12.1" textLength="58.43" lengthAdjust="spacingAndGlyphs">abs sig <tspan dy="-0.6">(</tspan><tspan dy="0.6">%</tspan><tspan dy="-0.6">)</tspan></text>
<text x="260.98" y="38.60" font-size="13.0" textLength="16.06" lengthAdjust="spacingAndGlyphs">sig</text>
<text x="261.42" y="49.20" font-size="13.0" textLength="29.12" lengthAdjust="spacingAndGlyphs">fitted</text>
<text x="293.85" y="49.70" font-size="13.6" font-family="Liberation Serif" textLength="5.44" lengthAdjust="spacingAndGlyphs">τ</text>
<text x="299.77" y="54.20" font-size="7.5" textLength="11.75" lengthAdjust="spacingAndGlyphs">exp</text>
<text x="311.91" y="49.50" font-size="13.0" textLength="39.75" lengthAdjust="spacingAndGlyphs">=1.6ms</text>
<circle cx="254.8" cy="36.3" r="1.25" fill="#3b54a4"/>
<path d="M251.1 46.7h6.8" stroke="#e81c2a" stroke-width="1.6"/>
</g>
</svg>
</body></html>
